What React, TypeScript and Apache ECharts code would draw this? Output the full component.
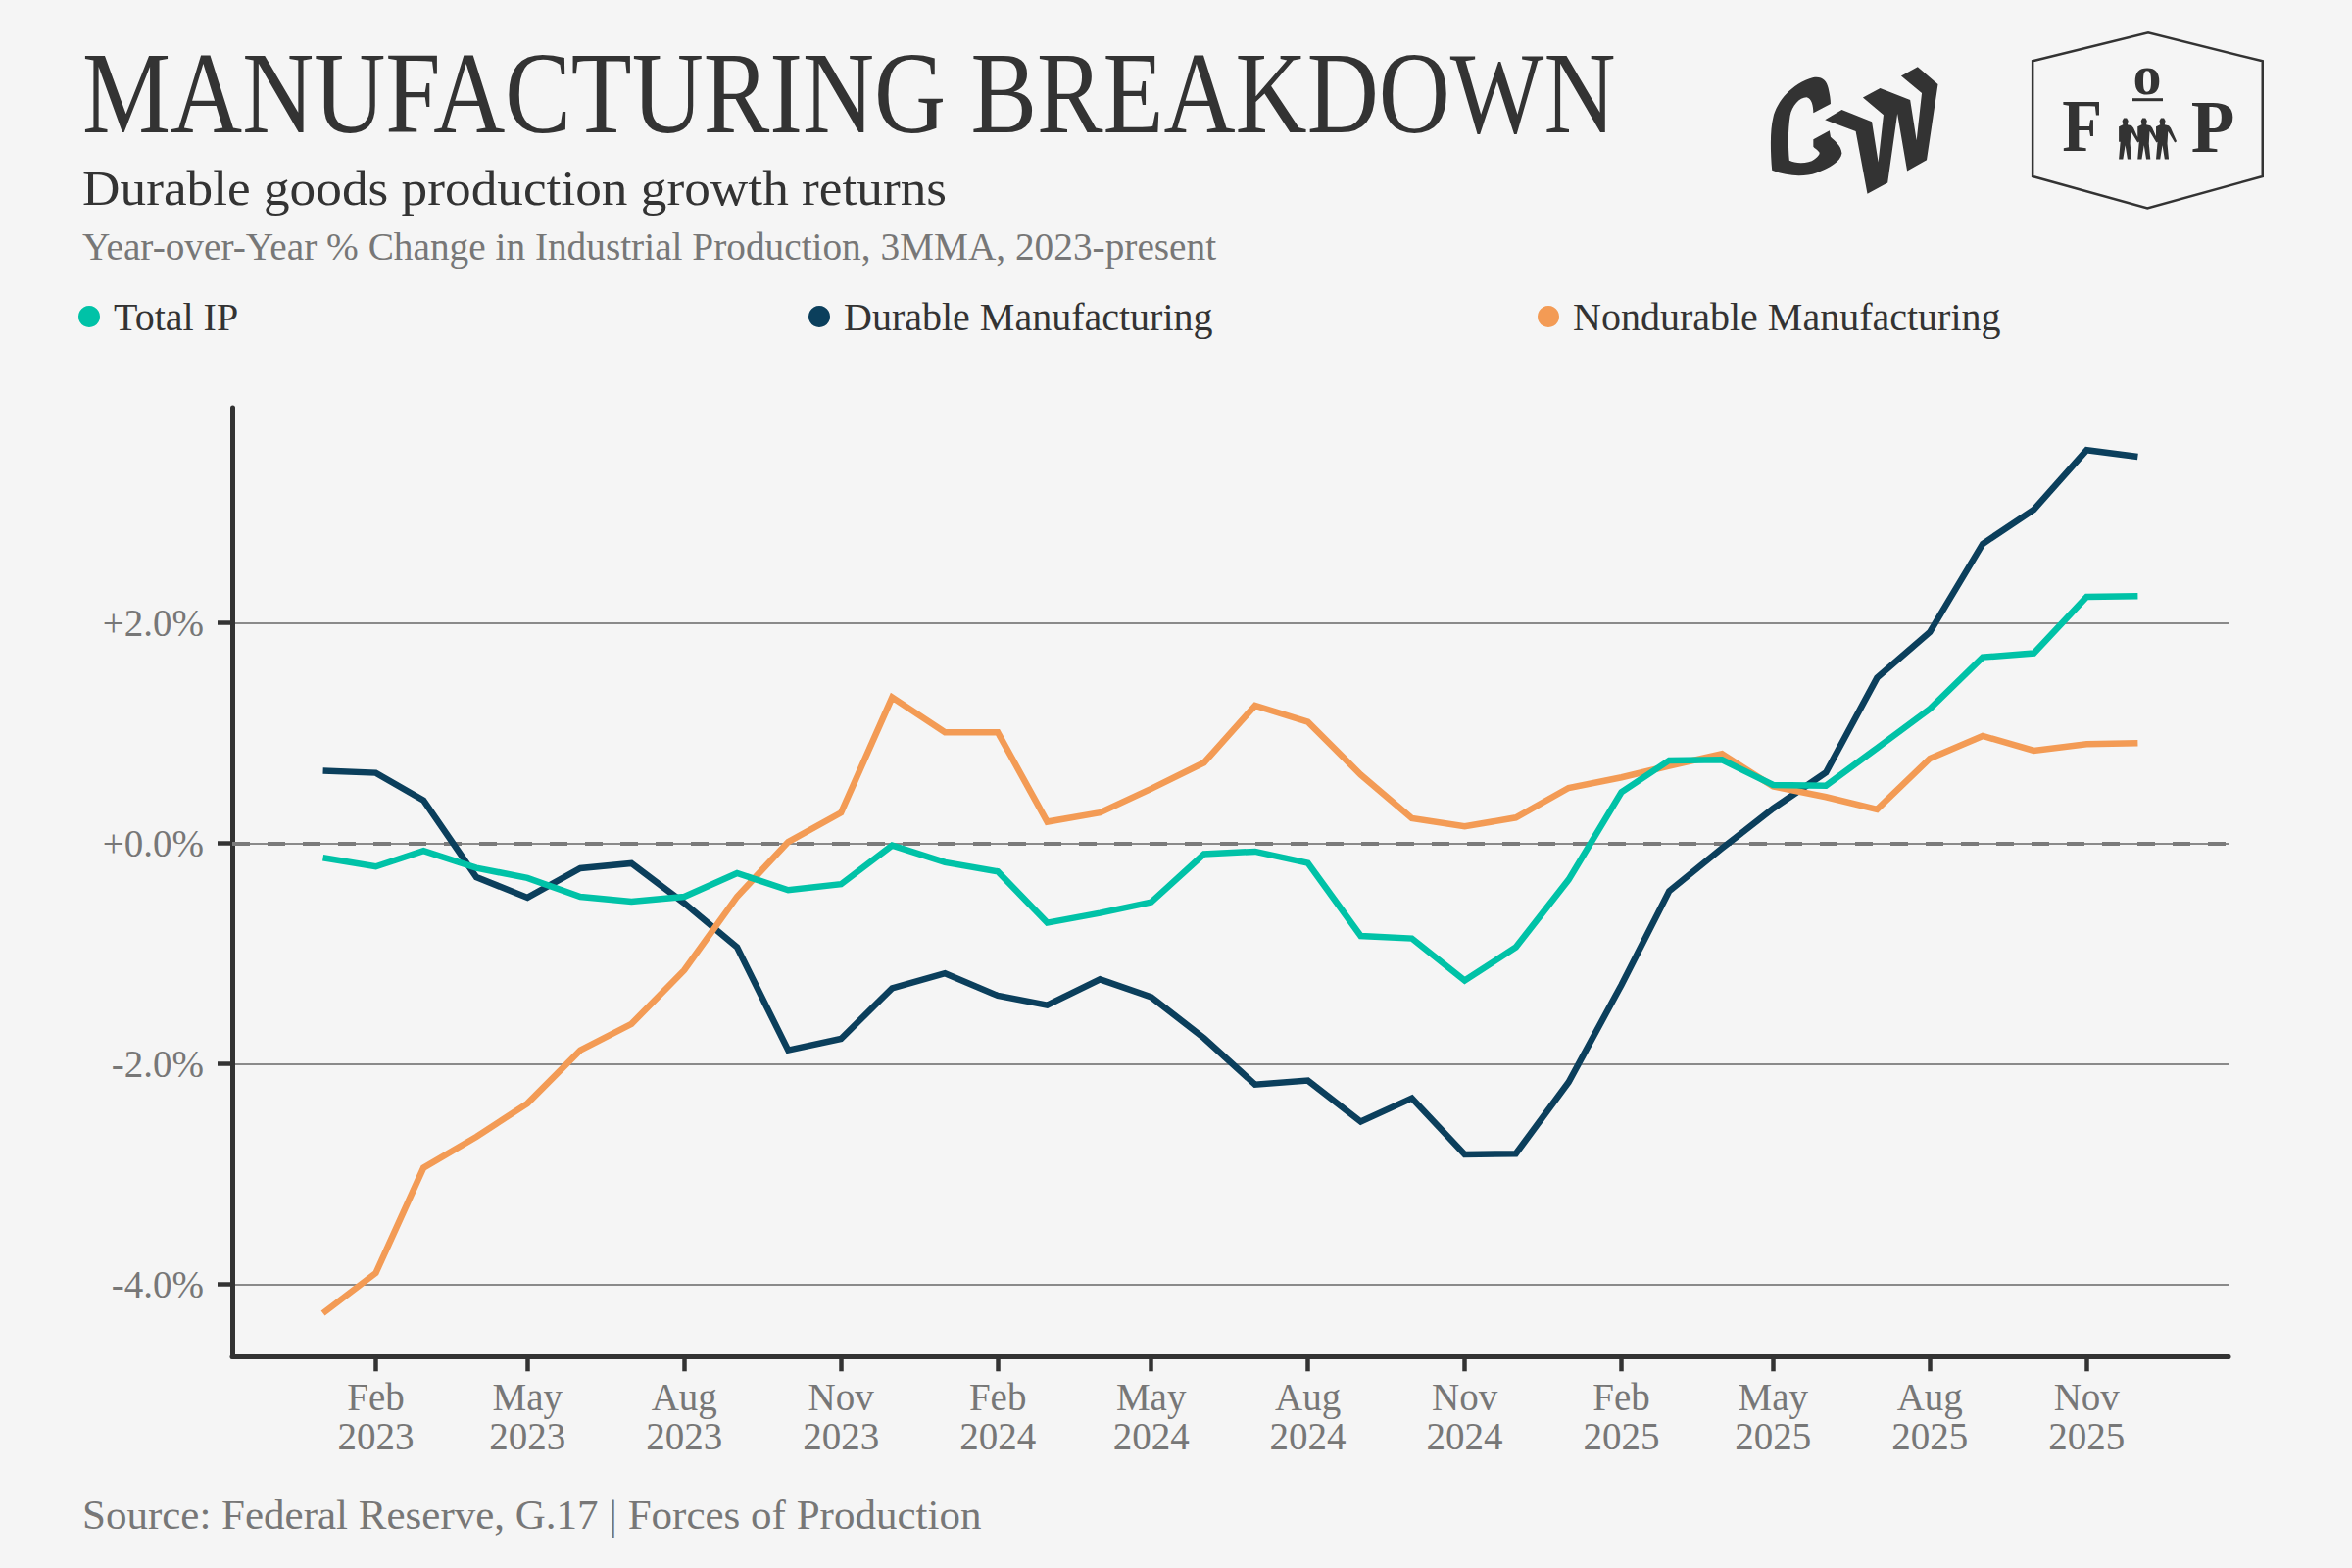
import React, { useEffect, useRef } from "react";
import * as echarts from "echarts";

const SERIF = "'Liberation Serif'";
const DARK = "#333333";
const GRAY = "#777777";

const dates = [
  "2023-01-01","2023-02-01","2023-03-01","2023-04-01","2023-05-01","2023-06-01","2023-07-01","2023-08-01","2023-09-01","2023-10-01","2023-11-01","2023-12-01",
  "2024-01-01","2024-02-01","2024-03-01","2024-04-01","2024-05-01","2024-06-01","2024-07-01","2024-08-01","2024-09-01","2024-10-01","2024-11-01","2024-12-01",
  "2025-01-01","2025-02-01","2025-03-01","2025-04-01","2025-05-01","2025-06-01","2025-07-01","2025-08-01","2025-09-01","2025-10-01","2025-11-01","2025-12-01",
];
const totalIP = [
  -0.133,-0.213,-0.071,-0.225,-0.317,-0.486,-0.53,-0.486,-0.273,-0.427,-0.373,-0.021,
  -0.175,-0.258,-0.723,-0.634,-0.536,-0.1,-0.077,-0.181,-0.842,-0.865,-1.247,-0.945,
  -0.332,0.462,0.75,0.756,0.527,0.521,0.862,1.218,1.686,1.722,2.234,2.24,
];
const durable = [
  0.655,0.637,0.388,-0.309,-0.495,-0.228,-0.184,-0.545,-0.945,-1.879,-1.775,-1.316,
  -1.182,-1.384,-1.47,-1.236,-1.396,-1.769,-2.19,-2.154,-2.527,-2.314,-2.824,-2.818,
  -2.169,-1.286,-0.436,-0.047,0.314,0.64,1.499,1.914,2.714,3.025,3.564,3.505,
];
const nondurable = [
  -4.264,-3.9,-2.945,-2.664,-2.361,-1.879,-1.641,-1.153,-0.486,0.01,0.276,1.321,
  1.004,1.004,0.193,0.276,0.492,0.729,1.247,1.099,0.62,0.225,0.151,0.231,
  0.5,0.596,0.7,0.809,0.513,0.418,0.305,0.767,0.972,0.839,0.898,0.907,
];
const xTickDates = ["2023-02-01","2023-05-01","2023-08-01","2023-11-01","2024-02-01","2024-05-01","2024-08-01","2024-11-01","2025-02-01","2025-05-01","2025-08-01","2025-11-01"];
const monthNames = ["Jan","Feb","Mar","Apr","May","Jun","Jul","Aug","Sep","Oct","Nov","Dec"];
const yTicks = [-4, -2, 0, 2];

const ms = (d: string) => Date.parse(d + "T00:00:00Z");
const toPts = (pts: number[][]) => pts.map(([x, y]) => [1750 + x / 2.613, 10 + y / 3]);

const GW_PATH =
  "M152 492 C148 440 146 370 155 330 C165 280 205 225 262 207 C285 203 297 215 302 240 C306 260 308 275 308 288 L262 316 C262 295 258 272 244 268 C225 268 205 295 200 325 C194 370 195 420 198 462 C215 472 250 472 265 458 C275 450 280 442 278 437 C272 428 265 425 262 420 L262 397 L305 370 L308 390 C318 402 336 415 338 440 C335 465 305 485 270 500 C240 512 195 512 152 492 Z " +
  "M293 337 L338 306 L418 343 L435 467 L449 322 L394 269 L440 240 L520 276 L537 400 L551 255 L496 203 L540 175 L594 228 L564 460 L512 494 L486 318 L460 530 L406 564 L375 372 Z";

const figure = (c: number) =>
  `M${c - 8} 340 L${c - 4} 332 L${c + 4} 332 L${c + 8} 340 L${c + 6} 352 L${c + 17} 355 L${c + 22} 362 L${c + 38} 403 L${c + 33} 407 L${c + 15} 372 L${c + 13} 410 L${c + 17} 458 L${c + 6} 458 L${c} 415 L${c - 6} 458 L${c - 17} 458 L${c - 13} 405 L${c - 17} 405 L${c - 17} 358 L${c - 6} 352 Z `;
const PEOPLE_PATH = figure(1093) + figure(1143) + figure(1192);

echarts.graphic.registerShape("gwLogo", echarts.graphic.extendPath(GW_PATH, {}) as any);
echarts.graphic.registerShape("fopPeople", echarts.graphic.extendPath(PEOPLE_PATH, {}) as any);

const textEl = (
  text: string, x: number, baseline: number, size: number, fill: string,
  extra: any = {}, styleExtra: any = {}
) => ({
  type: "text",
  x,
  y: baseline - 0.3375 * size,
  ...extra,
  style: {
    text, fill,
    font: `${size}px ${SERIF}`,
    align: "left",
    verticalAlign: "middle",
    ...styleExtra,
  },
});

const legendEl = (name: string, left: number) => ({
  show: true,
  left,
  top: 303,
  padding: 0,
  orient: "horizontal",
  selectedMode: false,
  icon: "circle",
  itemWidth: 22,
  itemHeight: 22,
  data: [name],
  textStyle: { fontFamily: SERIF, fontSize: 40, color: DARK, padding: [0, 0, 0, 9] },
});

const lineSeries = (name: string, values: number[], color: string, extra: any = {}) => ({
  name,
  type: "line",
  showSymbol: false,
  symbol: "none",
  smooth: false,
  silent: true,
  lineStyle: { color, width: 6.5, cap: "butt", join: "miter" },
  itemStyle: { color },
  data: dates.map((d, i) => [ms(d), values[i]]),
  ...extra,
});

const DAY = 86400000;

export default function App() {
  const ref = useRef<HTMLDivElement>(null);
  useEffect(() => {
    const chart = echarts.init(ref.current!, null, { renderer: "svg" });
    const pad = 53.25 * DAY;
    const xTicks = xTickDates.map(ms);
    chart.setOption({
      animation: false,
      backgroundColor: "#F5F5F5",
      textStyle: { fontFamily: SERIF },
      grid: { left: 237, top: 416, width: 2037, height: 968.3, containLabel: false },
      legend: [
        legendEl("Total IP", 80),
        legendEl("Durable Manufacturing", 825),
        legendEl("Nondurable Manufacturing", 1569),
      ],
      xAxis: {
        type: "value",
        min: ms(dates[0]) - pad,
        max: ms(dates[dates.length - 1]) + pad,
        splitLine: { show: false },
        axisLine: { show: true, onZero: false, lineStyle: { color: DARK, width: 5 } },
        axisTick: { show: true, length: 15, lineStyle: { color: DARK, width: 4.5 }, customValues: xTicks },
        axisLabel: {
          show: true, margin: 21, color: GRAY, fontFamily: SERIF, fontSize: 39, lineHeight: 40,
          customValues: xTicks,
          formatter: (v: number) => {
            const d = new Date(v);
            return `${monthNames[d.getUTCMonth()]}\n${d.getUTCFullYear()}`;
          },
        },
      },
      yAxis: {
        type: "value",
        min: -4.658,
        max: 3.949,
        axisLine: { show: true, onZero: false, lineStyle: { color: DARK, width: 5 } },
        axisTick: { show: true, length: 15, lineStyle: { color: DARK, width: 4.5 }, customValues: yTicks },
        splitLine: { show: true, lineStyle: { color: "#8a8a8a", width: 2 } },
        axisLabel: {
          show: true, margin: 29, color: GRAY, fontFamily: SERIF, fontSize: 39,
          customValues: yTicks,
          formatter: (v: number) => `${v >= 0 ? "+" : "-"}${Math.abs(v).toFixed(1)}%`,
        },
      },
      series: [
        lineSeries("Durable Manufacturing", durable, "#0B3F5C", {
          markLine: {
            silent: true, symbol: "none", z: 1,
            label: { show: false },
            lineStyle: { color: "#7a7a7a", width: 4, type: [18, 18], cap: "butt" },
            data: [{ yAxis: 0 }],
          },
        }),
        lineSeries("Nondurable Manufacturing", nondurable, "#F39B55"),
        lineSeries("Total IP", totalIP, "#00C2A7"),
      ],
      graphic: [
        textEl("MANUFACTURING BREAKDOWN", 84, 135, 118, DARK, { scaleX: 0.858 }),
        textEl("Durable goods production growth returns", 84, 209, 51, DARK, { scaleX: 1.045 }),
        textEl("Year-over-Year % Change in Industrial Production, 3MMA, 2023-present", 84, 265, 39, GRAY, { scaleX: 1.008 }),
        textEl("Source: Federal Reserve, G.17 | Forces of Production", 84, 1560, 42, GRAY, { scaleX: 1.024 }),
        { type: "gwLogo", x: 1750, y: 10, scaleX: 1 / 2.613, scaleY: 1 / 3, style: { fill: DARK } },
        {
          type: "polygon",
          shape: { points: toPts([[847,157],[1155,70],[1460,157],[1460,510],[1153,607],[847,510]]) },
          style: { fill: "none", stroke: DARK, lineWidth: 2.5 },
        },
        textEl("F", 2124.7, 154.5, 77, DARK, { scaleX: 0.87 }, { align: "center", font: `bold 77px ${SERIF}` }),
        textEl("P", 2258, 154.5, 77, DARK, { scaleX: 0.95 }, { align: "center", font: `bold 77px ${SERIF}` }),
        textEl("o", 2191, 96.5, 58, DARK, {}, { align: "center", font: `bold 58px ${SERIF}` }),
        { type: "line", shape: { x1: 2176, y1: 101.7, x2: 2207, y2: 101.7 }, style: { stroke: DARK, lineWidth: 3 } },
        { type: "fopPeople", x: 1750, y: 10, scaleX: 1 / 2.613, scaleY: 1 / 3, style: { fill: DARK } },
      ],
    });
    return () => chart.dispose();
  }, []);
  return <div ref={ref} style={{ position: "absolute", left: 0, top: 0, width: 2400, height: 1600 }} />;
}
